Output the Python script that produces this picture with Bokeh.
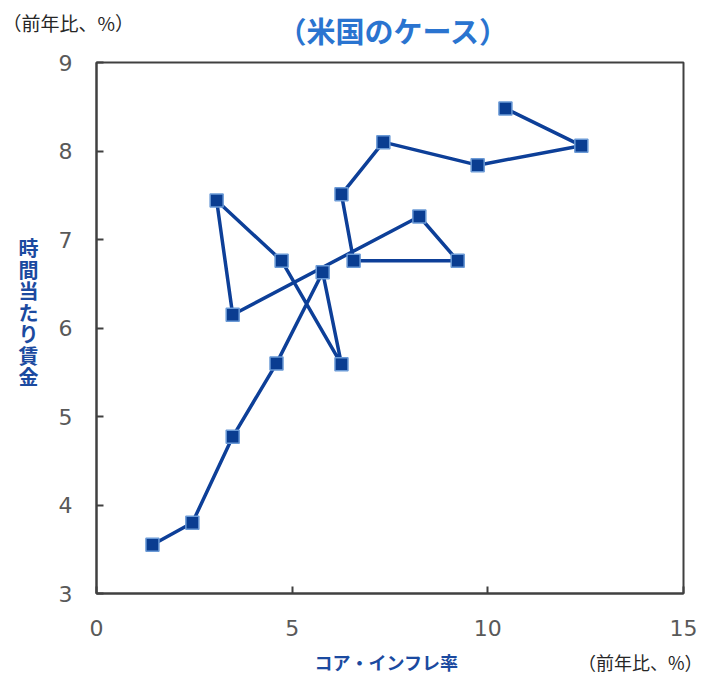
from bokeh.plotting import figure
from bokeh.models import Label, Range1d, FixedTicker, LinearAxis, BoxAnnotation
from bokeh.embed import file_html
from bokeh.resources import INLINE

# data: core inflation (x) vs hourly wages (y), % y/y
core_inflation = [1.43, 2.45, 3.48, 4.60, 5.78, 6.26, 4.73, 3.07, 3.48, 8.25, 9.23, 6.57, 6.26, 7.33, 9.74, 12.39, 10.45]
hourly_wage = [3.55, 3.80, 4.77, 5.60, 6.63, 5.59, 6.76, 7.44, 6.15, 7.26, 6.76, 6.76, 7.51, 8.10, 7.84, 8.06, 8.48]
x_ticks = [0, 5, 10, 15]
y_ticks = [3, 4, 5, 6, 7, 8, 9]

W, H = 711, 675
# plot box in page pixels
BL, BR, BT, BB = 96, 683, 62, 593
x0, x1, y0, y1 = 0, 15, 3, 9
sx = (BR - BL) / (x1 - x0)
sy = (BB - BT) / (y1 - y0)
xr = Range1d(x0 - BL / sx, x1 + (W - BR) / sx)
yr = Range1d(y0 - (H - BB) / sy, y1 + BT / sy)

p = figure(width=W, height=H, output_backend="svg", toolbar_location=None,
           x_range=xr, y_range=yr, x_axis_type=None, y_axis_type=None,
           min_border=0, min_border_left=0, min_border_right=0,
           min_border_top=0, min_border_bottom=0)
p.title = None
p.grid.visible = False
p.background_fill_color = "white"
p.border_fill_color = "white"
p.outline_line_color = None

AX = "#404040"
def style_axis(ax, ticks):
    ax.ticker = FixedTicker(ticks=ticks)
    ax.axis_line_color = AX
    ax.axis_line_width = 2
    ax.major_tick_line_color = AX
    ax.major_tick_line_width = 2
    ax.major_tick_in = 7
    ax.major_tick_out = 0
    ax.minor_tick_line_color = None
    ax.major_label_text_font = "DejaVu Sans"
    ax.major_label_text_font_size = "22px"
    ax.major_label_text_color = "#595959"

xaxis = LinearAxis(fixed_location=y0, bounds=(x0, x1))
style_axis(xaxis, x_ticks)
xaxis.major_label_standoff = 26
p.add_layout(xaxis, "below")

yaxis = LinearAxis(fixed_location=x0, bounds=(y0, y1))
style_axis(yaxis, y_ticks)
yaxis.major_label_standoff = 24
p.add_layout(yaxis, "left")

# plot box outline (top and right edges)
p.add_layout(BoxAnnotation(left=x0, right=x1, bottom=y0, top=y1,
                           fill_color=None, fill_alpha=0, line_color=AX, line_alpha=1.0,
                           line_width=2, level="underlay"))

p.line(core_inflation, hourly_wage, line_color="#0D3F98", line_width=3.5)
p.scatter(core_inflation, hourly_wage, marker="square", size=13,
          fill_color="#0A3D91", line_color="#6B9AD6", line_width=1.5)

def add_label(text, px, py, size, color, bold=False, align="left", baseline="middle"):
    # page pixel position (top-left origin) -> screen units of the full-canvas frame
    p.add_layout(Label(x=px, y=H - py, x_units="screen", y_units="screen", text=text,
                       text_font="Noto Sans CJK JP", text_font_size=size,
                       text_color=color, text_font_style="bold" if bold else "normal",
                       text_align=align, text_baseline=baseline))

add_label("（米国のケース）", 393, 29, "29px", "#2A74D0", bold=True, align="center")
add_label("（前年比、%）", 2, 22, "19px", "#262626")
add_label("（前年比、%）", 702, 661, "18px", "#262626", align="right")
add_label("コア・インフレ率", 386, 661, "18px", "#1B4AA0", bold=True, align="center")

wage_chars = list("時間当たり賃金")
for i, ch in enumerate(wage_chars):
    add_label(ch, 28, 247 + i * 21.5, "20px", "#1B4AA0", bold=True, align="center")

open("out.html", "w").write(file_html(p, INLINE))
